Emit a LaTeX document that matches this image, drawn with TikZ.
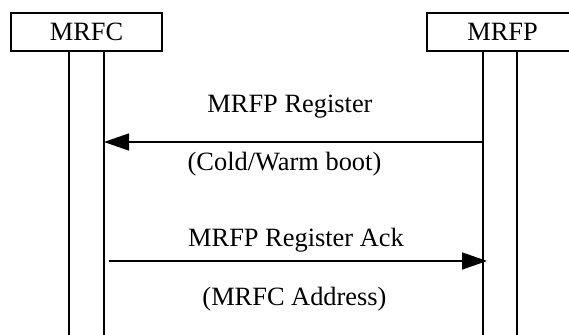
\documentclass[tikz,border=0pt]{standalone}
\usepackage{fontspec}
\setmainfont{Liberation Serif}
\usetikzlibrary{arrows.meta}
\begin{document}
\begin{tikzpicture}[x=1pt,y=-1pt,
  every node/.style={font=\fontsize{26.4}{30}\selectfont},
  entity/.style={draw,line width=1.5pt,minimum width=151pt,minimum height=38pt,inner sep=0pt,fill=white},
  life/.style={line width=1.5pt},
  msg/.style={line width=1.5pt,-{Triangle[length=25pt,width=17pt]}},
  lbl/.style={anchor=base,inner sep=0pt}]
\useasboundingbox (0,0) rectangle (569,334);
\begin{scope}
\clip (0,0) rectangle (569,334);
% lifelines
\coordinate (c1t) at (69,51);  \coordinate (c1b) at (69,340);
\coordinate (c2t) at (104,51); \coordinate (c2b) at (104,340);
\coordinate (p1t) at (483,51); \coordinate (p1b) at (483,340);
\coordinate (p2t) at (517,51); \coordinate (p2b) at (517,340);
\draw[life] (c1t) -- (c1b);
\draw[life] (c2t) -- (c2b);
\draw[life] (p1t) -- (p1b);
\draw[life] (p2t) -- (p2b);
\node[entity] (mrfc) at (86.5,32) {MRFC};
\node[entity] (mrfp) at (502.5,32) {MRFP};
% messages
\coordinate (a1s) at (483,142); \coordinate (a1e) at (104,142);
\coordinate (a2s) at (109,261); \coordinate (a2e) at (487,261);
\draw[msg] (a1s) -- (a1e);
\draw[msg] (a2s) -- (a2e);
\end{scope}
\node[lbl] (t1) at (290,112) {MRFP Register};
\node[lbl] (t2) at (284.5,170) {(Cold/Warm boot)};
\node[lbl] (t3) at (296,246) {MRFP Register Ack};
\node[lbl] (t4) at (294.5,305) {(MRFC Address)};
\end{tikzpicture}
\end{document}
